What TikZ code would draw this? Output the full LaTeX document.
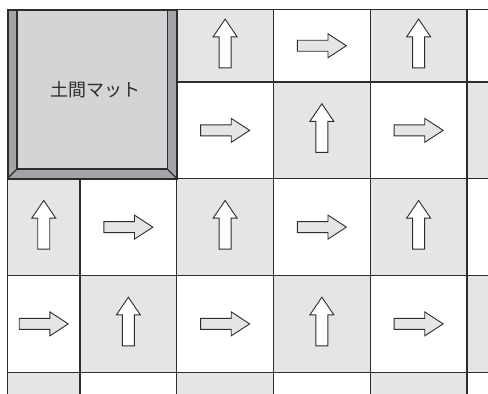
\documentclass[tikz,border=0pt]{standalone}
\usepackage{fontspec}
\newfontfamily\jpfont{Noto Sans CJK JP}
\definecolor{tilegray}{RGB}{229,229,231}
\definecolor{matgray}{RGB}{211,212,214}
\definecolor{matedge}{RGB}{163,164,168}
\definecolor{gridline}{RGB}{45,45,45}
\usetikzlibrary{positioning,calc}

\tikzset{
  tile/.style={draw=gridline,line width=1.3pt,inner sep=0pt,outer sep=0pt},
  arrowline/.style={draw=gridline,line width=0.9pt,line join=miter},
  uparrow/.pic={
    \draw[arrowline,fill=white] (0,-24.35) -- (12,-6.65) -- (6,-6.65) -- (6,24.35)
      -- (-6,24.35) -- (-6,-6.65) -- (-12,-6.65) -- cycle;
  },
  rightarrow/.pic={
    \draw[arrowline,fill=tilegray] (24.5,0) -- (6.1,-12) -- (6.1,-5.5) -- (-24.5,-5.5)
      -- (-24.5,5.5) -- (6.1,5.5) -- (6.1,12) -- cycle;
  }
}

\begin{document}
\begin{tikzpicture}[x=1pt,y=-1pt]
  \useasboundingbox (0,0) rectangle (488,394);
  \clip (0,0) rectangle (488,394);
  % floor tiles
  \foreach \c in {0,...,5}{
    \foreach \r in {0,...,4}{
      \pgfmathsetmacro\cellx{\c==0 ? 7.5 : 80+(\c-1)*96.75}
      \pgfmathsetmacro\cellw{\c==0 ? 72.5 : 96.75}
      \pgfmathsetmacro\celly{\r==0 ? 9.5 : 82+(\r-1)*96.75}
      \pgfmathsetmacro\cellh{\r==0 ? 72.5 : 96.75}
      \pgfmathtruncatemacro\shade{mod(\c+\r,2)}
      \pgfmathtruncatemacro\inmat{(\c<2)&&(\r<2)}
      \ifnum\inmat=0
        \ifnum\shade=0
          \node[tile,fill=tilegray,minimum width=\cellw,minimum height=\cellh]
            (t\c-\r) at (\cellx+\cellw/2,\celly+\cellh/2) {};
          \ifnum\r<4 \pic at ($(t\c-\r.center)+(0,-2.3)$) {uparrow};\fi
        \else
          \node[tile,fill=white,minimum width=\cellw,minimum height=\cellh]
            (t\c-\r) at (\cellx+\cellw/2,\celly+\cellh/2) {};
          \ifnum\r<4 \pic at (t\c-\r.center) {rightarrow};\fi
        \fi
      \fi
    }
  }
  % mat with frame
  \coordinate (matnw) at (7.5,9.5);
  \coordinate (matse) at (176.8,178.5);
  \fill[matedge] (matnw) rectangle (matse);
  \node[draw=gridline,line width=1.2pt,fill=matgray,inner sep=0pt,
    minimum width=150.3,minimum height=159.5] (mat) at (92.15,89.25) {};
  \draw[gridline,line width=1.2pt] (mat.south west) -- (matnw |- matse)
    (mat.south east) -- (matse);
  \draw[gridline,line width=2pt] (matnw) rectangle (matse);
  \node[text=gridline,font=\jpfont\fontsize{18}{22}\selectfont]
    (matlabel) at ($(mat.center)+(3.8,0)$) {土間マット};
\end{tikzpicture}
\end{document}
